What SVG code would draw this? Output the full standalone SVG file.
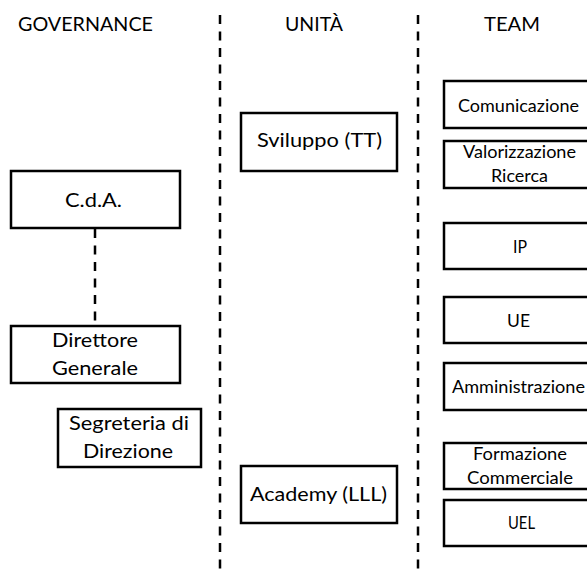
<svg xmlns="http://www.w3.org/2000/svg" width="587" height="572" viewBox="0 0 587 572">
<style>
.box{fill:#fff;stroke:#000;stroke-width:2.5}
.dash{stroke:#000;stroke-width:2.5;stroke-dasharray:9 7.5;fill:none}
text{font-family:Lato,"Open Sans","Liberation Sans",sans-serif;fill:#000;text-anchor:start}
.h{font-size:20px}
.l{font-size:19.5px}
.u{font-size:18.5px}
.t{font-size:17px}
</style>
<rect width="587" height="572" fill="#fff"/>
<g id="headers">
<text class="h" x="18" y="31" textLength="135" lengthAdjust="spacingAndGlyphs">GOVERNANCE</text>
<text class="h" x="285" y="31" textLength="58" lengthAdjust="spacingAndGlyphs">UNITÀ</text>
<text class="h" x="484" y="31" textLength="56" lengthAdjust="spacingAndGlyphs">TEAM</text>
</g>
<g id="connectors">
<line class="dash" x1="220" y1="15" x2="220" y2="572"/>
<line class="dash" x1="418" y1="15" x2="418" y2="572"/>
<line class="dash" x1="95" y1="229" x2="95" y2="325"/>
</g>
<g id="cda">
<rect class="box" x="11" y="171" width="169" height="57"/>
<text class="l" x="65" y="207" textLength="57" lengthAdjust="spacingAndGlyphs">C.d.A.</text>
</g>
<g id="direttore">
<rect class="box" x="11" y="326" width="169" height="57"/>
<text class="l" x="52" y="347" textLength="86" lengthAdjust="spacingAndGlyphs">Direttore</text>
<text class="l" x="52" y="375" textLength="86" lengthAdjust="spacingAndGlyphs">Generale</text>
</g>
<g id="segreteria">
<rect class="box" x="58" y="409" width="143" height="58"/>
<text class="l" x="69" y="430" textLength="120" lengthAdjust="spacingAndGlyphs">Segreteria di</text>
<text class="l" x="83" y="458" textLength="90" lengthAdjust="spacingAndGlyphs">Direzione</text>
</g>
<g id="sviluppo">
<rect class="box" x="241" y="113" width="156" height="58"/>
<text class="u" x="257" y="147" textLength="125" lengthAdjust="spacingAndGlyphs">Sviluppo (TT)</text>
</g>
<g id="academy">
<rect class="box" x="241" y="466" width="156" height="57"/>
<text class="u" x="250" y="501" textLength="137" lengthAdjust="spacingAndGlyphs">Academy (LLL)</text>
</g>
<g id="comunicazione">
<rect class="box" x="444" y="81" width="150" height="47"/>
<text class="t" x="458" y="112" textLength="121" lengthAdjust="spacingAndGlyphs">Comunicazione</text>
</g>
<g id="valorizzazione">
<rect class="box" x="444" y="141" width="150" height="47"/>
<text class="t" x="463" y="158" textLength="113" lengthAdjust="spacingAndGlyphs">Valorizzazione</text>
<text class="t" x="491" y="182" textLength="57" lengthAdjust="spacingAndGlyphs">Ricerca</text>
</g>
<g id="ip">
<rect class="box" x="444" y="223" width="150" height="46"/>
<text class="t" x="513" y="253" textLength="14" lengthAdjust="spacingAndGlyphs">IP</text>
</g>
<g id="ue">
<rect class="box" x="444" y="297" width="150" height="46"/>
<text class="t" x="507" y="327" textLength="23" lengthAdjust="spacingAndGlyphs">UE</text>
</g>
<g id="amministrazione">
<rect class="box" x="444" y="363" width="150" height="47"/>
<text class="t" x="452" y="393" textLength="133" lengthAdjust="spacingAndGlyphs">Amministrazione</text>
</g>
<g id="formazione">
<rect class="box" x="444" y="443" width="150" height="46"/>
<text class="t" x="473" y="460" textLength="94" lengthAdjust="spacingAndGlyphs">Formazione</text>
<text class="t" x="467" y="484" textLength="106" lengthAdjust="spacingAndGlyphs">Commerciale</text>
</g>
<g id="uel">
<rect class="box" x="444" y="500" width="150" height="46"/>
<text class="t" x="508" y="529" textLength="27" lengthAdjust="spacingAndGlyphs">UEL</text>
</g>
</svg>
